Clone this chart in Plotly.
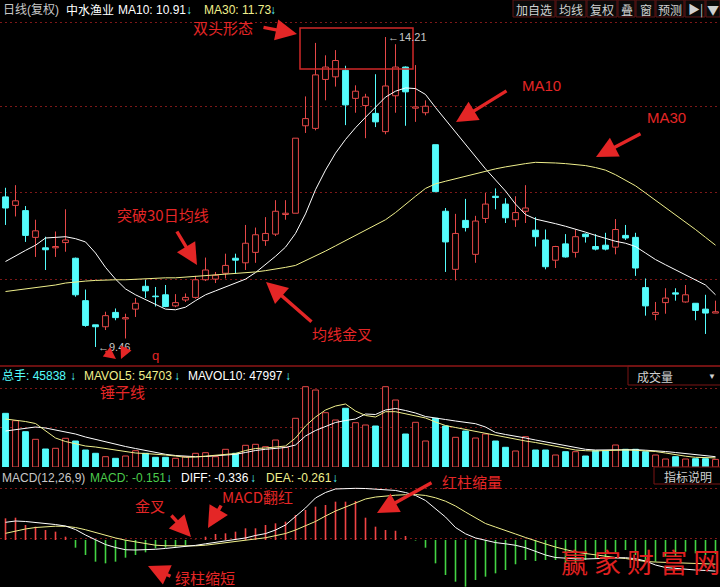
import plotly.graph_objects as go

# ---------------- data ----------------
idx = list(range(72))
opens = [11.76, 11.63, 11.55, 11.14, 10.98, 10.98, 11.06, 10.82, 10.17, 9.80,
         9.77, 9.99, 9.89, 10.04, 10.39, 10.24, 10.26, 10.09, 10.18, 10.22,
         10.49, 10.50, 10.59, 10.82, 10.75, 10.91, 11.09, 11.19, 11.49, 11.51,
         12.85, 12.81, 13.56, 13.60, 13.70, 13.27, 13.16, 13.04, 12.76, 13.31,
         13.75, 13.12, 13.05, 12.56, 11.54, 10.65, 11.40, 10.88, 11.43, 11.77,
         11.65, 11.41, 11.54, 11.25, 11.10, 10.79, 11.04, 10.91, 11.19, 11.00,
         11.02, 10.99, 11.17, 11.14, 10.37, 9.96, 10.14, 10.29, 10.15, 10.13,
         10.04, 9.98]
highs = [11.90, 11.94, 11.62, 11.41, 11.15, 11.23, 11.57, 10.83, 10.34, 9.80,
         10.00, 10.05, 9.97, 10.21, 10.49, 10.38, 10.41, 10.27, 10.28, 10.55,
         10.83, 10.61, 10.89, 10.89, 11.33, 11.29, 11.45, 11.71, 11.71, 12.66,
         13.30, 14.12, 13.93, 14.01, 13.77, 13.47, 13.34, 13.64, 14.21, 14.10,
         13.76, 13.78, 13.24, 12.56, 11.59, 11.50, 11.73, 11.47, 11.82, 11.89,
         11.74, 11.77, 11.94, 11.45, 11.26, 11.01, 11.19, 11.26, 11.20, 11.19,
         11.21, 11.42, 11.33, 11.21, 10.51, 10.15, 10.36, 10.36, 10.41, 10.13,
         10.26, 10.17]
lows = [11.33, 11.46, 11.07, 10.84, 10.64, 10.84, 10.92, 10.23, 9.77, 9.46,
        9.72, 9.87, 9.59, 9.92, 10.21, 10.08, 10.07, 10.07, 10.15, 10.20,
        10.47, 10.44, 10.51, 10.58, 10.64, 10.75, 11.01, 11.16, 11.41, 11.51,
        12.74, 12.78, 13.24, 13.45, 12.86, 13.05, 12.66, 12.83, 12.72, 13.05,
        12.85, 12.91, 13.01, 11.84, 10.61, 10.48, 11.23, 10.75, 11.36, 11.57,
        11.36, 11.30, 11.36, 11.00, 10.65, 10.67, 10.83, 10.83, 11.06, 10.94,
        10.94, 10.88, 11.10, 10.55, 9.94, 9.87, 9.97, 10.17, 10.14, 9.87,
        9.66, 9.98]
closes = [11.59, 11.70, 11.17, 11.24, 10.95, 11.00, 11.10, 10.26, 9.79, 9.77,
          9.94, 9.91, 9.91, 10.13, 10.32, 10.23, 10.08, 10.14, 10.22, 10.49,
          10.64, 10.56, 10.71, 10.79, 11.05, 11.18, 11.20, 11.54, 11.51, 12.66,
          12.96, 13.63, 13.75, 13.85, 13.17, 13.38, 13.29, 12.91, 13.46, 13.75,
          13.37, 13.14, 13.15, 11.84, 11.07, 11.20, 11.29, 11.39, 11.65, 11.75,
          11.44, 11.52, 11.59, 11.15, 10.69, 11.00, 10.84, 11.15, 11.15, 10.96,
          10.96, 11.26, 11.13, 10.67, 10.09, 9.99, 10.21, 10.27, 10.26, 10.02,
          9.98, 10.00]
ma10 = [10.77, 10.86, 10.94, 11.02, 11.13, 11.14, 11.15, 11.12, 11.07, 10.90,
        10.68, 10.50, 10.35, 10.26, 10.19, 10.11, 10.04, 10.03, 10.07, 10.17,
        10.26, 10.32, 10.38, 10.43, 10.50, 10.60, 10.72, 10.85, 10.99, 11.20,
        11.50, 11.87, 12.17, 12.43, 12.64, 12.82, 12.98, 13.13, 13.29, 13.38,
        13.43, 13.42, 13.33, 13.13, 12.94, 12.76, 12.57, 12.38, 12.19, 12.02,
        11.85, 11.65, 11.49, 11.42, 11.39, 11.35, 11.31, 11.27, 11.22, 11.17,
        11.12, 11.08, 11.05, 11.00, 10.90, 10.80, 10.72, 10.64, 10.56, 10.49,
        10.41, 10.26]
ma30 = [10.31, 10.33, 10.35, 10.37, 10.38, 10.41, 10.44, 10.46, 10.47, 10.48,
        10.49, 10.49, 10.49, 10.50, 10.50, 10.51, 10.52, 10.52, 10.53, 10.54,
        10.55, 10.56, 10.57, 10.58, 10.59, 10.61, 10.63, 10.65, 10.68, 10.71,
        10.78, 10.85, 10.93, 11.01, 11.09, 11.17, 11.25, 11.33, 11.41, 11.52,
        11.65, 11.77, 11.89, 11.96, 12.00, 12.04, 12.08, 12.11, 12.16, 12.19,
        12.22, 12.25, 12.27, 12.29, 12.29, 12.28, 12.27, 12.26, 12.24, 12.21,
        12.17, 12.10, 12.01, 11.93, 11.82, 11.71, 11.60, 11.49, 11.37, 11.26,
        11.14, 11.02]
volume = [322000, 277800, 211800, 166200, 108000, 112200, 172200, 156000, 102000, 82200,
          61800, 52200, 66000, 97800, 82200, 58200, 58200, 52200, 61800, 82200,
          85800, 61800, 106200, 82200, 130200, 136200, 121800, 162000, 118200, 292200,
          481800, 462000, 325800, 282000, 352200, 265800, 252000, 246000, 481800, 402000,
          198000, 268200, 156000, 292200, 246000, 178200, 216000, 174000, 198000, 156000,
          118200, 96000, 181800, 102000, 102000, 72000, 91800, 91800, 66000, 97800,
          97800, 132000, 106200, 106200, 91800, 72000, 48000, 61800, 48000, 49800,
          49800, 45838]
mavol5 = [288000, 282000, 273000, 261000, 216000, 174000, 153000, 138000, 126000, 120000,
          111000, 99000, 90000, 84000, 81000, 78000, 72000, 66000, 58200, 60000,
          66000, 69000, 75000, 81000, 99000, 111000, 114000, 120000, 126000, 174000,
          246000, 300000, 342000, 366000, 378000, 336000, 309000, 300000, 331800, 331800,
          318000, 306000, 294000, 270000, 249000, 237000, 225000, 213000, 201000, 189000,
          177000, 165000, 156000, 147000, 135000, 126000, 114000, 102000, 97800, 96000,
          99000, 102000, 102000, 100200, 98400, 93000, 84000, 73800, 64800, 58200,
          55200, 54703]
mavol10 = [216000, 225000, 234000, 240000, 234000, 222000, 213000, 198000, 180000, 165000,
           153000, 138000, 123000, 111000, 99000, 87000, 76200, 69000, 64800, 61800,
           63000, 67200, 72000, 76200, 87000, 99000, 106200, 112200, 117000, 132000,
           186000, 219000, 243000, 267000, 279000, 288000, 318000, 315000, 342000, 351000,
           339000, 324000, 303000, 292200, 285000, 276000, 268200, 259800, 240000, 207000,
           195000, 186000, 174000, 162000, 150000, 138000, 126000, 115200, 106200, 102000,
           103200, 105000, 106200, 103800, 100800, 98400, 93000, 87000, 80400, 76200,
           69000, 61800]
macd_hist = [0.234, 0.241, 0.162, 0.144, 0.108, 0.090, 0.036, -0.083, -0.162, -0.234,
             -0.252, -0.234, -0.191, -0.162, -0.133, -0.090, -0.083, -0.072, -0.054, 0.004,
             0.036, 0.065, 0.072, 0.090, 0.126, 0.126, 0.162, 0.180, 0.198, 0.270,
             0.324, 0.360, 0.378, 0.414, 0.414, 0.421, 0.241, 0.144, 0.108, 0.100,
             0.043, -0.006, -0.083, -0.252, -0.378, -0.450, -0.504, -0.432, -0.396, -0.360,
             -0.324, -0.262, -0.216, -0.227, -0.216, -0.216, -0.262, -0.252, -0.216, -0.198,
             -0.205, -0.133, -0.108, -0.162, -0.252, -0.234, -0.180, -0.180, -0.126, -0.144,
             -0.162, -0.151]
diff = [0.191, 0.205, 0.200, 0.191, 0.180, 0.167, 0.151, 0.113, 0.054, 0.005,
        -0.049, -0.081, -0.105, -0.108, -0.108, -0.100, -0.091, -0.081, -0.073, -0.058,
        -0.041, -0.027, -0.011, 0.005, 0.022, 0.049, 0.069, 0.108, 0.162, 0.254,
        0.346, 0.454, 0.513, 0.551, 0.556, 0.558, 0.556, 0.549, 0.543, 0.535,
        0.513, 0.481, 0.427, 0.335, 0.248, 0.135, 0.067, 0.022, -0.005, -0.028,
        -0.041, -0.057, -0.083, -0.124, -0.162, -0.189, -0.200, -0.203, -0.205, -0.204,
        -0.200, -0.194, -0.191, -0.202, -0.227, -0.270, -0.297, -0.308, -0.319, -0.324,
        -0.329, -0.336]
dea = [0.072, 0.097, 0.119, 0.135, 0.146, 0.149, 0.148, 0.135, 0.111, 0.081,
       0.049, 0.022, -0.002, -0.022, -0.040, -0.056, -0.062, -0.065, -0.065, -0.063,
       -0.056, -0.041, -0.028, -0.015, -0.002, 0.011, 0.024, 0.043, 0.070, 0.108,
       0.157, 0.200, 0.259, 0.313, 0.356, 0.400, 0.443, 0.464, 0.477, 0.484,
       0.489, 0.491, 0.481, 0.456, 0.419, 0.367, 0.302, 0.238, 0.178, 0.140,
       0.106, 0.065, 0.027, -0.011, -0.043, -0.076, -0.103, -0.130, -0.146, -0.162,
       -0.176, -0.189, -0.200, -0.216, -0.232, -0.238, -0.243, -0.247, -0.251, -0.255,
       -0.258, -0.261]

# ---------------- styles ----------------
RED = '#E64848'
CYAN = '#54FCFC'
YEL = '#F0F08C'
GREEN = '#4CCC4C'
ANN = '#E42626'
GRID = '#7D1818'
W, H = 720, 587
FONT = 'Liberation Sans, Noto Sans CJK SC, sans-serif'
CJK = 'Noto Sans CJK SC, sans-serif'

def px(x):
    return x / W

def py(y):
    return 1 - y / H

up = [i for i in idx if closes[i] >= opens[i]]
dn = [i for i in idx if closes[i] < opens[i]]

fig = go.Figure()

def bodies(ids, fill, line):
    fig.add_trace(go.Bar(
        x=ids,
        base=[min(opens[i], closes[i]) for i in ids],
        y=[max(abs(closes[i] - opens[i]), 0.004) for i in ids],
        width=0.58, marker=dict(color=fill, line=dict(color=line, width=1)),
        xaxis='x', yaxis='y', hoverinfo='skip'))

def wicks(ids, color):
    xs, ys = [], []
    for i in ids:
        top = max(opens[i], closes[i])
        bot = min(opens[i], closes[i])
        xs += [i, i, None, i, i, None]
        ys += [highs[i], top, None, bot, lows[i], None]
    fig.add_trace(go.Scatter(x=xs, y=ys, mode='lines', line=dict(color=color, width=1),
                             xaxis='x', yaxis='y', hoverinfo='skip'))

bodies(up, 'black', RED)
bodies(dn, CYAN, CYAN)
wicks(up, RED)
wicks(dn, CYAN)
fig.add_trace(go.Scatter(x=idx, y=ma10, mode='lines', line=dict(color='white', width=1),
                         xaxis='x', yaxis='y'))
fig.add_trace(go.Scatter(x=idx, y=ma30, mode='lines', line=dict(color=YEL, width=1),
                         xaxis='x', yaxis='y'))

# volume
fig.add_trace(go.Bar(x=up, y=[volume[i] for i in up], width=0.58,
                     marker=dict(color='black', line=dict(color=RED, width=1)),
                     xaxis='x2', yaxis='y2'))
fig.add_trace(go.Bar(x=dn, y=[volume[i] for i in dn], width=0.58,
                     marker=dict(color=CYAN, line=dict(color=CYAN, width=1)),
                     xaxis='x2', yaxis='y2'))
fig.add_trace(go.Scatter(x=idx, y=mavol10, mode='lines', line=dict(color='white', width=1),
                         xaxis='x2', yaxis='y2'))
fig.add_trace(go.Scatter(x=idx, y=mavol5, mode='lines', line=dict(color=YEL, width=1),
                         xaxis='x2', yaxis='y2'))

# MACD histogram as thin bars
pos = [i for i in idx if macd_hist[i] > 0]
neg = [i for i in idx if macd_hist[i] <= 0]
fig.add_trace(go.Bar(x=pos, y=[macd_hist[i] for i in pos], width=0.16,
                     marker=dict(color='#F04444', line=dict(width=0)), xaxis='x3', yaxis='y3'))
fig.add_trace(go.Bar(x=neg, y=[macd_hist[i] for i in neg], width=0.16,
                     marker=dict(color='#44D444', line=dict(width=0)), xaxis='x3', yaxis='y3'))
fig.add_trace(go.Scatter(x=idx, y=dea, mode='lines', line=dict(color=YEL, width=1),
                         xaxis='x3', yaxis='y3'))
fig.add_trace(go.Scatter(x=idx, y=diff, mode='lines', line=dict(color='white', width=1),
                         xaxis='x3', yaxis='y3'))

xcommon = dict(range=[-0.55, 71.45], showgrid=False, zeroline=False, showticklabels=False,
               ticks='', showline=False, fixedrange=True)
ycommon = dict(showticklabels=False, ticks='', zeroline=False, showline=False,
               gridcolor=GRID, griddash='2px,3px', gridwidth=1, fixedrange=True)

fig.update_layout(
    width=W, height=H, margin=dict(l=0, r=0, t=0, b=0),
    paper_bgcolor='black', plot_bgcolor='black', showlegend=False,
    barmode='overlay', hovermode=False,
    font=dict(family=FONT, color='white', size=12),
    xaxis=dict(domain=[0, 1], anchor='y', **xcommon),
    xaxis2=dict(domain=[0, 1], anchor='y2', matches='x', **xcommon),
    xaxis3=dict(domain=[0, 1], anchor='y3', matches='x', **xcommon),
    yaxis=dict(domain=[py(365), py(20)], range=[9.184, 14.471],
               tickvals=[10.50, 11.82, 13.15, 14.44], **ycommon),
    yaxis2=dict(domain=[py(467), py(367)], range=[0, 600000],
                tickvals=[240000, 474000], **ycommon),
    yaxis3=dict(domain=[0, py(470)], range=[-0.5076, 0.756],
                tickvals=[0.02, 0.56], **ycommon),
)

shapes = []
# panel separator
shapes.append(dict(type='line', xref='paper', yref='paper', x0=0, x1=1, y0=py(366), y1=py(366),
                   line=dict(color='#8E1616', width=1.5)))
# double-top box
shapes.append(dict(type='rect', xref='paper', yref='paper', x0=px(300), x1=px(413),
                   y0=py(69), y1=py(28), line=dict(color='#D02828', width=1.5)))
# toolbar buttons
buttons = [('加自选', 513, 555), ('均线', 556, 586), ('复权', 587, 617), ('叠', 618, 635),
           ('窗', 636, 655), ('预测', 656, 684), ('▶|', 685, 705), ('▼', 706, 720)]
for label, x0, x1 in buttons:
    shapes.append(dict(type='rect', xref='paper', yref='paper', x0=px(x0), x1=px(x1),
                       y0=py(17), y1=py(0), line=dict(color='#5E1414', width=1),
                       fillcolor='#0A0A0A', layer='above'))
# volume selector box
shapes.append(dict(type='rect', xref='paper', yref='paper', x0=px(628), x1=px(721),
                   y0=py(385), y1=py(366), line=dict(color='#7A1414', width=1)))
# indicator box
shapes.append(dict(type='rect', xref='paper', yref='paper', x0=px(654), x1=px(721),
                   y0=py(484), y1=py(467), line=dict(color='#7A1414', width=1)))
fig.update_layout(shapes=shapes)

anns = []

def text(x, y, s, color, size=12, anchor='left', family=FONT):
    anns.append(dict(x=px(x), y=py(y), xref='paper', yref='paper', text=s, showarrow=False,
                     xanchor=anchor, yanchor='middle', font=dict(color=color, size=size, family=family)))

def arrow(tx, ty, sx, sy, width=3.4, size=1.25):
    anns.append(dict(x=px(tx), y=py(ty), xref='paper', yref='paper', text='', showarrow=True,
                     ax=sx - tx, ay=sy - ty, arrowhead=2, arrowsize=size, arrowwidth=width,
                     arrowcolor=ANN, standoff=0))

# header rows
text(1, 10, '日线(复权)', '#C8C8C8')
text(64, 10, '中水渔业', 'white')
text(116, 10, 'MA10: 10.91', 'white')
text(184, 10, '<b>↓</b>', CYAN)
text(202, 10, 'MA30: 11.73', YEL)
text(268, 10, '<b>↓</b>', CYAN)

text(0, 376, '总手: 45838', CYAN)
text(68, 376, '<b>↓</b>', CYAN)
text(82, 376, 'MAVOL5: 54703', YEL)
text(172, 376, '<b>↓</b>', CYAN)
text(186, 376, 'MAVOL10: 47997', 'white')
text(283, 376, '<b>↓</b>', CYAN)

text(0, 478, 'MACD(12,26,9)', '#C8C8C8')
text(88, 478, 'MACD: -0.151', GREEN)
text(164, 478, '<b>↓</b>', CYAN)
text(179, 478, 'DIFF: -0.336', 'white')
text(248, 478, '<b>↓</b>', CYAN)
text(264, 478, 'DEA: -0.261', YEL)
text(330, 478, '<b>↓</b>', CYAN)

for label, x0, x1 in buttons:
    text((x0 + x1) / 2, 9, label, '#D0D0D0', size=12, anchor='center', family=CJK)
text(655, 376, '成交量', '#D0D0D0', size=12, anchor='center', family=CJK)
text(712, 376, '▼', '#D0D0D0', size=8, anchor='center')
text(688, 476, '指标说明', '#D0D0D0', size=12, anchor='center', family=CJK)

# high / low labels tied to the data
anns.append(dict(x=38, y=highs[38], xref='x', yref='y', text='←' + f'{highs[38]:.2f}',
                 showarrow=False, xanchor='left', yanchor='middle',
                 font=dict(color='#C8C8C8', size=11, family=FONT)))
anns.append(dict(x=9, y=lows[9], xref='x', yref='y', text='←' + f'{lows[9]:.2f}',
                 showarrow=False, xanchor='left', yanchor='middle',
                 font=dict(color='#C8C8C8', size=11, family=FONT)))

# red commentary
text(223, 27, '双头形态', ANN, 15, 'center', CJK)
arrow(297, 34, 262, 27)
text(541, 85, 'MA10', ANN, 15, 'center')
arrow(456, 122, 508, 90)
text(666, 118, 'MA30', ANN, 15, 'center')
arrow(596, 157, 642, 133)
text(163, 215, '突破30日均线', ANN, 15, 'center', CJK)
arrow(197, 265, 176, 230)
text(342, 333, '均线金叉', ANN, 15, 'center', CJK)
arrow(266, 282, 313, 323)
arrow(116, 359, 104, 350, width=2, size=1.2)
arrow(121, 359, 127, 346, width=2, size=1.2)
text(155, 355, 'q', ANN, 13, 'center')
text(122, 391, '锤子线', ANN, 15, 'center', CJK)
text(150, 505, '金叉', ANN, 15, 'center', CJK)
arrow(191, 537, 170, 514)
text(257, 496, 'MACD翻红', ANN, 15, 'center', CJK)
arrow(208, 528, 222, 504)
text(205, 577, '绿柱缩短', ANN, 15, 'center', CJK)
arrow(148, 566, 172, 577)
text(472, 481, '红柱缩量', ANN, 15, 'center', CJK)
arrow(377, 513, 433, 482)
text(640, 561, '赢 家 财 富 网', '#E02020', 27, 'center', CJK)

fig.update_layout(annotations=anns)
fig.write_html('out.html', config={'displayModeBar': False, 'staticPlot': True},
               post_script="document.body.style.margin='0';document.body.style.background='black';")
